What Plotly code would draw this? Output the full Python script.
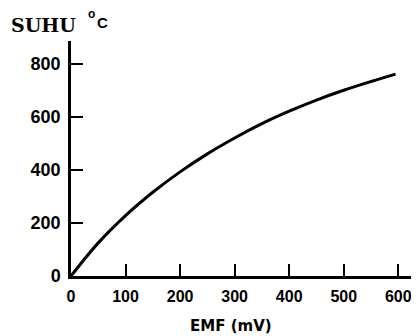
import plotly.graph_objects as go

emf_mv = [0, 50, 100, 150, 200, 250, 300, 350, 400, 450, 500, 550, 595]
suhu_c = [0, 125, 228, 316, 393, 461, 521, 575, 622, 664, 701, 734, 762]

x_ticks = [0, 100, 200, 300, 400, 500, 600]
y_ticks = [0, 200, 400, 600, 800]

# the page has an 8px body margin; figure coords = page coords - 8
PL, PT, PR, PB = 71, 41, 419, 276  # plot area in page pixels
W = PR - PL
H = PB - PT


def px(xp):
    return (xp - PL) / W


def py(yp):
    return (PB - yp) / H


fig = go.Figure()
fig.add_trace(go.Scatter(x=emf_mv, y=suhu_c, mode="lines",
                         line=dict(color="black", width=3, shape="spline", smoothing=1.0),
                         showlegend=False, hoverinfo="skip"))

axis_common = dict(ticks="inside", ticklen=12, tickwidth=2, tickcolor="black",
                   showline=True, linecolor="black", linewidth=2.5,
                   showgrid=False, zeroline=False)

fig.update_layout(
    width=411, height=328,
    margin=dict(l=PL - 8, r=0, t=PT - 8, b=328 - (PB - 8)),
    paper_bgcolor="white", plot_bgcolor="white",
    xaxis=dict(range=[0, 638], tickvals=x_ticks,
               tickfont=dict(family="Liberation Sans", size=16, color="black", weight="bold"),
               ticklabelstandoff=4, **axis_common),
    yaxis=dict(range=[0, 887], tickvals=y_ticks,
               tickfont=dict(family="Liberation Sans", size=18, color="black", weight="bold"),
               ticklabelstandoff=4, **axis_common),
)

fig.add_annotation(text="SUHU", xref="paper", yref="paper",
                   x=px(9), y=py(24.5), xanchor="left", yanchor="middle",
                   showarrow=False,
                   font=dict(family="DejaVu Serif", size=19, color="black", weight="bold"))
fig.add_annotation(text="o", xref="paper", yref="paper",
                   x=px(91), y=py(14), xanchor="center", yanchor="middle",
                   showarrow=False,
                   font=dict(family="Liberation Sans", size=12, color="black", weight="bold"))
fig.add_annotation(text="C", xref="paper", yref="paper",
                   x=px(102), y=py(22.5), xanchor="center", yanchor="middle",
                   showarrow=False,
                   font=dict(family="Liberation Sans", size=15, color="black", weight="bold"))
fig.add_annotation(text="EMF (mV)", xref="paper", yref="paper",
                   x=px(231), y=py(325.5), xanchor="center", yanchor="middle",
                   showarrow=False,
                   font=dict(family="DejaVu Sans", size=15, color="black", weight="bold"))

fig.write_html("out.html")
